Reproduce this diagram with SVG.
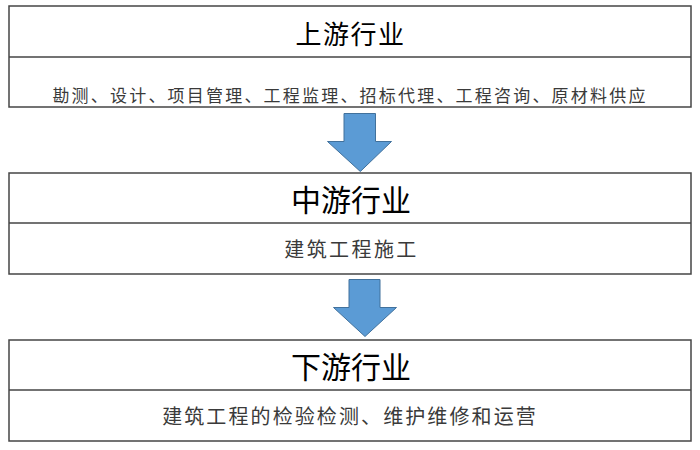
<svg xmlns="http://www.w3.org/2000/svg" width="700" height="450" viewBox="0 0 700 450">
<style>
.box{fill:#fff;stroke:#454545;stroke-width:1.5}
.div{stroke:#454545;stroke-width:1.5}
.t{font-family:"Noto Sans CJK SC","Noto Sans",sans-serif;text-anchor:middle;dominant-baseline:central;fill:#000}
.s{font-family:"Noto Sans CJK SC","Noto Sans",sans-serif;text-anchor:middle;dominant-baseline:central;fill:#3a3a3a}
.arr{fill:#5B9BD5;stroke:#41719C;stroke-width:1}
</style>
<rect width="700" height="450" fill="#fff"/>
<g id="connectors">
<path class="arr" d="M344,113.5 L375.5,113.5 L375.5,141.5 L391.5,141.5 L360.3,171.5 L327.5,141.5 L344,141.5 Z"/>
<path class="arr" d="M349,279.5 L380,279.5 L380,307.5 L396.5,307.5 L365,336.5 L333.5,307.5 L349,307.5 Z"/>
</g>
<g id="upstream">
<rect class="box" x="9" y="6" width="682" height="101"/>
<line class="div" x1="9" y1="57" x2="691" y2="57"/>
<text class="t" x="350.5" y="32" font-size="26" letter-spacing="1.5">上游行业</text>
<text class="s" x="350" y="94" font-size="17" letter-spacing="2.2">勘测、设计、项目管理、工程监理、招标代理、工程咨询、原材料供应</text>
</g>
<g id="midstream">
<rect class="box" x="9" y="173" width="682" height="101"/>
<line class="div" x1="9" y1="223" x2="691" y2="223"/>
<text class="t" x="351" y="197.5" font-size="30">中游行业</text>
<text class="s" x="351.5" y="248" font-size="20" letter-spacing="2.4">建筑工程施工</text>
</g>
<g id="downstream">
<rect class="box" x="9" y="340" width="682" height="101"/>
<line class="div" x1="9" y1="390" x2="691" y2="390"/>
<text class="t" x="351" y="364.5" font-size="30">下游行业</text>
<text class="s" x="350" y="415" font-size="20" letter-spacing="2.1">建筑工程的检验检测、维护维修和运营</text>
</g>
</svg>
